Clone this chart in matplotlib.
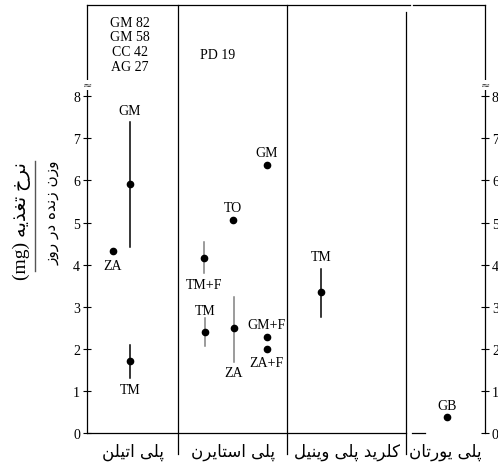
import matplotlib
matplotlib.use('Agg')
import matplotlib.pyplot as plt
import matplotlib.transforms as mtransforms
from matplotlib.lines import Line2D

plt.rcParams['font.family'] = ['Liberation Serif', 'DejaVu Sans']

# plastic types (one panel each)
panels = ['پلی اتیلن', 'پلی استایرن', 'کلرید پلی وینیل', 'پلی یورتان']
panel_edges = [0, 22.9, 50.3, 80.2, 100]

# feeding rate per species (mg / live weight / day)
species = ['GM', 'ZA', 'TM', 'GM', 'TO', 'TM+F', 'TM', 'ZA', 'GM+F', 'ZA+F', 'TM', 'GB']
x_pos = [10.8, 6.5, 10.8, 45.2, 36.7, 29.4, 29.6, 36.9, 45.2, 45.2, 58.8, 90.5]
rate = [5.91, 4.32, 1.71, 6.37, 5.06, 4.16, 2.40, 2.49, 2.28, 2.00, 3.35, 0.38]
rate_low = [4.42, None, 1.31, None, None, 3.80, 2.07, 1.69, None, None, 2.75, None]
rate_high = [7.39, None, 2.09, None, None, 4.54, 2.73, 3.23, None, None, 3.90, None]
bar_color = ['k', 'k', 'k', 'k', 'k', '#808080', '#808080', '#808080', 'k', 'k', 'k', 'k']
label_side = ['up', 'down', 'down', 'up', 'up', 'down', 'up', 'down', 'up', 'down', 'up', 'up']
label_gap = [11, 14, 12, 12, 13, 11, 8, 11, 13, 14, 12, 12]

# values beyond the axis break
off_species = ['GM', 'GM', 'CC', 'AG', 'PD']
off_value = [82, 58, 42, 27, 19]
off_x = [10.8, 10.8, 10.8, 10.8, 32.7]
off_y = [9.76, 9.43, 9.07, 8.72, 9.0]

Y_TOP = 10.17
Y_BREAK = 8.27

# minimal persian shaping (matplotlib has no arabic shaping)
DUAL = {'ب': 0xFE8F, 'ت': 0xFE95, 'س': 0xFEB1, 'ل': 0xFEDD, 'ن': 0xFEE5,
        'ه': 0xFEE9, 'خ': 0xFEA5, 'غ': 0xFECD, 'پ': 0xFB56, 'ک': 0xFB8E,
        'ی': 0xFBFC}
RIGHT = {'ا': 0xFE8D, 'ر': 0xFEAD, 'د': 0xFEA9, 'و': 0xFEED, 'ذ': 0xFEAB,
         'ز': 0xFEAF}


def shape(word):
	out = []
	for i, c in enumerate(word):
		prev = word[i - 1] if i > 0 else None
		nxt = word[i + 1] if i < len(word) - 1 else None
		join_prev = prev in DUAL
		if c in RIGHT:
			out.append(chr(RIGHT[c] + (1 if join_prev else 0)))
		elif c in DUAL:
			join_next = nxt is not None and (nxt in DUAL or nxt in RIGHT)
			if join_prev and join_next:
				k = 3
			elif join_prev:
				k = 1
			elif join_next:
				k = 2
			else:
				k = 0
			out.append(chr(DUAL[c] + k))
		else:
			out.append(c)
	return ''.join(out)


def fa(text):
	return ' '.join(shape(w) for w in text.split(' '))[::-1]


def main():
	fig = plt.figure(figsize=(4.98, 4.64), dpi=100)
	ax = fig.add_axes([87 / 498, 30 / 464, 398 / 498, 428 / 464])
	ax.set_xlim(0, 100)
	ax.set_ylim(0, Y_TOP)
	ax.set_xticks([])
	ax.set_yticks(range(9))
	ax.tick_params(axis='y', direction='inout', length=6, width=0.8,
	               right=True, labelright=True, labelsize=10, pad=2)
	for s in ['top', 'bottom']:
		ax.spines[s].set_visible(False)
	for s in ['left', 'right']:
		ax.spines[s].set_linewidth(0.9)

	tr = mtransforms.blended_transform_factory(ax.transData, ax.transAxes)
	# top and bottom lines with gap before last panel
	ax.plot([0, 81.2], [1, 1], color='k', lw=0.9, transform=tr, clip_on=False)
	ax.plot([81.9, 100], [1, 1], color='k', lw=0.9, transform=tr, clip_on=False)
	ax.plot([0, 80.2], [0, 0], color='k', lw=0.9, transform=tr, clip_on=False)
	ax.plot([81.7, 84.9], [0, 0], color='k', lw=0.9, transform=tr, clip_on=False)
	# panel dividers
	for i, e in enumerate(panel_edges[1:-1]):
		top = 0.984 if i == 2 else 1
		ax.plot([e, e], [-0.049, top], color='k', lw=0.9, transform=tr, clip_on=False)

	# axis breaks
	trb = mtransforms.blended_transform_factory(ax.transAxes, ax.transData)
	for xa in [0, 1]:
		ax.text(xa, Y_BREAK, '≈', transform=trb, ha='center', va='center',
		        fontsize=8, color='#333333', family='DejaVu Sans',
		        bbox=dict(facecolor='white', edgecolor='none', pad=0.2))

	for i in range(len(species)):
		if rate_low[i] is not None:
			ax.plot([x_pos[i], x_pos[i]], [rate_low[i], rate_high[i]],
			        color=bar_color[i], lw=1.1)
		ax.plot(x_pos[i], rate[i], 'o', color='k', ms=4.5)
		if label_side[i] == 'up':
			y = rate_high[i] if rate_high[i] is not None else rate[i]
			dy = label_gap[i]
		else:
			y = rate_low[i] if rate_low[i] is not None else rate[i]
			dy = -label_gap[i]
		ax.annotate(species[i], (x_pos[i], y), xytext=(0, dy), textcoords='offset pixels',
		            ha='center', va='center', fontsize=10)

	for sp, v, x, y in zip(off_species, off_value, off_x, off_y):
		ax.text(x, y, f'{sp} {v}', ha='center', va='center', fontsize=10)

	for i, name in enumerate(panels):
		xc = (panel_edges[i] + panel_edges[i + 1]) / 2
		ax.text(xc, -0.042, fa(name), transform=tr, ha='center', va='center',
		        fontsize=12, family='DejaVu Sans')

	# y label as a fraction
	fig.text(22 / 498, (464 - 221) / 464, '(mg) ' + fa('نرخ تغذیه'),
	         rotation=90, ha='center', va='center', fontsize=14)
	fig.add_artist(Line2D([35 / 498, 35 / 498], [(464 - 162) / 464, (464 - 272) / 464],
	                      color='#555555', lw=1))
	fig.text(52 / 498, (464 - 213) / 464, fa('وزن زنده در روز'),
	         rotation=90, ha='center', va='center', fontsize=11, family='DejaVu Sans')

	fig.savefig('out.png', dpi=100)


if __name__ == '__main__':
	main()
